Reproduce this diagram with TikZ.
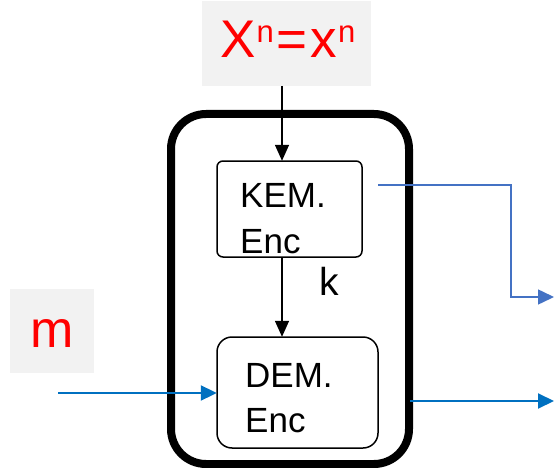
\documentclass[tikz,border=0pt]{standalone}
\usepackage{fontspec}
\setmainfont{Liberation Sans}
\usetikzlibrary{arrows.meta,calc}
\definecolor{boxgray}{HTML}{F2F2F2}
\definecolor{outblue}{HTML}{4472C4}
\definecolor{msgblue}{HTML}{0070C0}
\tikzset{
  graybox/.style={fill=boxgray, draw=none, inner sep=0pt},
  encbox/.style={draw=black, line width=1.5pt, inner sep=0pt},
  txt/.style={inner sep=0pt, anchor=base west},
  blk/.style={draw=black, line width=1.5pt, -{Triangle[length=16pt,width=14pt]}},
  bluearr/.style={line width=2pt, -{Triangle[length=16pt,width=15pt]}},
}
\newcommand{\fs}[1]{\fontsize{#1}{#1}\selectfont}
\begin{document}
\begin{tikzpicture}[x=1pt,y=-1pt]
\useasboundingbox (0,0) rectangle (554,468);

% inputs
\node[graybox, minimum width=169pt, minimum height=85pt] (xbox) at (286.5,43.5) {};
\node[txt, text=red] (xlab) at (220,58) {\fs{53}X\kern1pt\raisebox{15pt}{\fs{31}n}\kern3pt=\kern3pt x\kern1pt\raisebox{15pt}{\fs{31}n}};
\node[graybox, minimum width=84pt, minimum height=84pt] (mbox) at (52,331) {};
\node[txt, text=red, anchor=base] (mlab) at (52,347) {\fs{52}m};

% encapsulation frame
\draw[line width=8pt, rounded corners=35pt] (171,114) rectangle (409,464);

% KEM and DEM blocks
\draw[encbox, rounded corners=6pt] (217,161) rectangle (362,257);
\node[inner sep=0pt, minimum width=145pt, minimum height=96pt] (kem) at (289.5,209) {};
\node[txt] (kem1) at (240,207) {\fs{35}KEM.};
\node[txt] (kem2) at (240,253) {\fs{35}Enc};

\draw[encbox, rounded corners=15pt] (217,337) rectangle (378,448);
\node[inner sep=0pt, minimum width=161pt, minimum height=111pt] (dem) at (297.5,392.5) {};
\node[txt] (dem1) at (245,387) {\fs{35}DEM.};
\node[txt] (dem2) at (245,432) {\fs{35}Enc};

\node[txt] (klab) at (319,295) {\fs{39}k};

% connectors
\coordinate (a1) at (282,86);
\draw[blk] (a1) -- (a1 |- kem.north);
\draw[blk] (a1 |- kem.south) -- (a1 |- dem.north);

\coordinate (min) at (58,393);
\draw[bluearr, draw=msgblue] (min) -- (min -| dem.west);

\coordinate (kout) at (378,185);
\coordinate (kend) at (554,297);
\draw[bluearr, draw=outblue, line width=1.5pt] (kout) -- ++(133,0) |- (kend);

\coordinate (dout) at (410,401);
\coordinate (dend) at (554,401);
\draw[bluearr, draw=msgblue] (dout) -- (dend);
\end{tikzpicture}
\end{document}
